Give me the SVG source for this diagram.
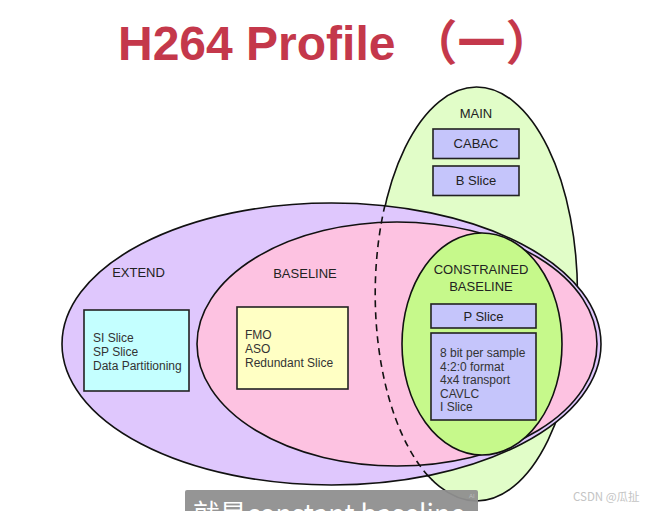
<svg xmlns="http://www.w3.org/2000/svg" width="650" height="511" viewBox="0 0 650 511">
  <style>
    .lbl { font-family: "Liberation Sans", Arial, sans-serif; font-size: 13px; fill: #222; text-anchor: middle; }
    .txt { font-family: "Liberation Sans", Arial, sans-serif; font-size: 12px; fill: #333; }
    .sh { stroke: #111; stroke-width: 1.6; }
    .box { stroke: #222; stroke-width: 1.6; }
    .blue { fill: #c5c5fb; }
  </style>
  <rect width="650" height="511" fill="#ffffff"/>

  <text x="118" y="60" font-family="Liberation Sans, Noto Sans CJK SC, sans-serif" font-weight="bold" font-size="48" fill="#c4384b">H264 Profile<tspan dx="14" font-family="Noto Sans CJK SC, sans-serif">（一）</tspan></text>

  <g id="main">
    <ellipse cx="476.5" cy="294" rx="101" ry="207" fill="#e1fdc8" class="sh"/>
  </g>
  <g id="extend">
    <ellipse cx="331.5" cy="344" rx="269.5" ry="141" fill="#dfc7fd" class="sh"/>
  </g>
  <g id="baseline">
    <ellipse cx="397" cy="344" rx="200" ry="122" fill="#fdc2e1" class="sh"/>
  </g>
  <g id="constrained">
    <ellipse cx="482" cy="344" rx="80" ry="111" fill="#c6f98b" class="sh"/>
  </g>
  <g id="connectors">
    <path d="M 385 205 A 101 207 0 0 0 432 480" fill="none" stroke="#111" stroke-width="1.6" stroke-dasharray="7 5"/>
  </g>

  <g id="main-label">
    <text x="476" y="118" class="lbl" font-size="13.5">MAIN</text>
  </g>
  <g id="cabac">
    <rect x="433" y="129" width="86" height="29.5" class="box blue"/>
    <text x="476" y="148" class="lbl" font-size="11.5" fill="#333">CABAC</text>
  </g>
  <g id="bslice">
    <rect x="433" y="166" width="86" height="29.5" class="box blue"/>
    <text x="476" y="185" class="lbl" font-size="11.5" fill="#333">B Slice</text>
  </g>

  <g id="extend-label">
    <text x="138.5" y="277" class="lbl">EXTEND</text>
  </g>
  <g id="extend-box">
    <rect x="84" y="310" width="105" height="81" class="box" fill="#c4ffff"/>
    <text class="txt"><tspan x="93" y="342">SI Slice</tspan><tspan x="93" y="356">SP Slice</tspan><tspan x="93" y="370">Data Partitioning</tspan></text>
  </g>

  <g id="baseline-label">
    <text x="305" y="278" class="lbl">BASELINE</text>
  </g>
  <g id="baseline-box">
    <rect x="237" y="307" width="111" height="82" class="box" fill="#ffffc4"/>
    <text class="txt" font-size="11.2"><tspan x="245" y="339">FMO</tspan><tspan x="245" y="353">ASO</tspan><tspan x="245" y="367">Redundant Slice</tspan></text>
  </g>

  <g id="constrained-label">
    <text x="481" y="274" class="lbl">CONSTRAINED</text>
    <text x="481" y="291" class="lbl">BASELINE</text>
  </g>
  <g id="pslice">
    <rect x="431" y="304" width="105" height="24" class="box blue"/>
    <text x="483.5" y="320.5" class="lbl" font-size="12" fill="#333">P Slice</text>
  </g>
  <g id="constrained-box">
    <rect x="431" y="333" width="105" height="87" class="box blue"/>
    <text class="txt" font-size="11.7"><tspan x="440" y="357">8 bit per sample</tspan><tspan x="440" y="370.6">4:2:0 format</tspan><tspan x="440" y="384.2">4x4 transport</tspan><tspan x="440" y="397.8">CAVLC</tspan><tspan x="440" y="411.4">I Slice</tspan></text>
  </g>

  <g id="subtitle">
    <rect x="185" y="490" width="293" height="30" rx="2" fill="#8f8f8f" opacity="0.95"/>
    <text x="193" y="524" font-family="Noto Sans CJK SC, sans-serif" font-size="27" fill="#ffffff" textLength="272" lengthAdjust="spacingAndGlyphs">就是constant baseline</text>
    <text x="469" y="498" font-family="Liberation Sans, sans-serif" font-size="6" fill="#bbbbbb">AI</text>
  </g>
  <g id="watermark">
    <text x="573" y="501" font-family="Noto Sans CJK SC, sans-serif" font-size="11.5" fill="#c4c4c4">CSDN @瓜扯</text>
  </g>
</svg>
